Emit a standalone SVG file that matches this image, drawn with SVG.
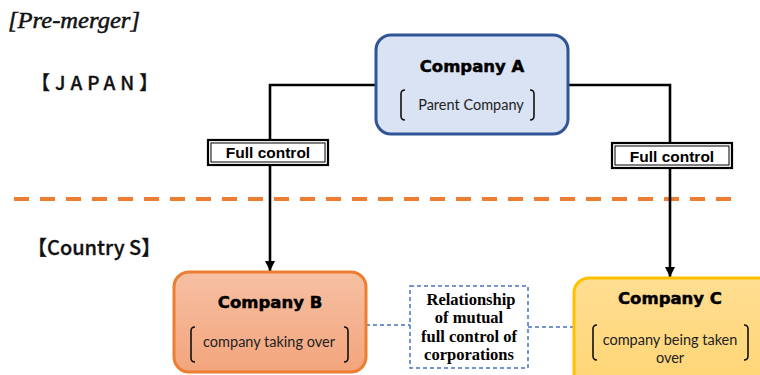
<svg xmlns="http://www.w3.org/2000/svg" width="760" height="375" viewBox="0 0 760 375">
  <style>
    .title { font-family: "DejaVu Sans", "Liberation Sans", sans-serif; font-weight: bold; font-size: 16.5px; fill: #000; stroke: #000; stroke-width: 0.5; text-anchor: middle; }
    .sub { font-family: Lato, "Open Sans", sans-serif; font-size: 14.5px; fill: #222; text-anchor: middle; }
    .bracket { fill: none; stroke: #111; stroke-width: 1.6; }
    .region { font-family: "Noto Sans CJK JP", "Noto Sans", sans-serif; font-weight: 500; fill: #111; }
    .wire { fill: none; stroke: #000; stroke-width: 2.6; }
    .link { fill: none; stroke: #4472C4; stroke-width: 1.5; stroke-dasharray: 4 3; }
    .tag-out { fill: #fff; stroke: #000; stroke-width: 2.2; }
    .tag-in { fill: none; stroke: #000; stroke-width: 1; }
    .tag-text { font-family: "Liberation Sans", Arial, sans-serif; font-weight: bold; font-size: 15.5px; fill: #000; text-anchor: middle; }
    .rel { font-family: "Liberation Serif", "Times New Roman", serif; font-weight: bold; font-size: 16.5px; fill: #000; text-anchor: middle; }
  </style>
  <defs>
    <marker id="arrow" viewBox="0 0 10 10" refX="10" refY="5" markerWidth="4" markerHeight="4" orient="auto" markerUnits="strokeWidth">
      <path d="M0,0 L10,5 L0,10 z" fill="#000"/>
    </marker>
    <linearGradient id="gradB" x1="0" y1="0" x2="0" y2="1">
      <stop offset="0" stop-color="#F6C0A3"/>
      <stop offset="1" stop-color="#F3A57C"/>
    </linearGradient>
    <linearGradient id="gradC" x1="0" y1="0" x2="0" y2="1">
      <stop offset="0" stop-color="#FFDE92"/>
      <stop offset="1" stop-color="#FFD574"/>
    </linearGradient>
  </defs>

  <!-- headings -->
  <text x="8" y="28" font-family="Liberation Serif, 'Times New Roman', serif" font-style="italic" font-size="24" fill="#111" stroke="#111" stroke-width="0.5" textLength="132" lengthAdjust="spacingAndGlyphs">[Pre-merger]</text>
  <text class="region" x="31" y="90" font-size="19" letter-spacing="5" stroke="#111" stroke-width="0.3">【JAPAN】</text>
  <text class="region" x="27" y="255" font-size="20" stroke="#111" stroke-width="0.3">【Country S】</text>

  <!-- border between the two countries -->
  <line x1="14" y1="199" x2="742" y2="199" stroke="#ED7D31" stroke-width="4" stroke-dasharray="15 11"/>

  <!-- connectors -->
  <g id="connectors">
    <path class="wire" d="M376,85 H270 V140"/>
    <path class="wire" d="M270,165 V271" marker-end="url(#arrow)"/>
    <path class="wire" d="M568,85 H670 V143"/>
    <path class="wire" d="M670,168 V277" marker-end="url(#arrow)"/>
    <line class="link" x1="366" y1="325" x2="410" y2="325"/>
    <line class="link" x1="528" y1="327" x2="573" y2="327"/>
  </g>

  <!-- control labels -->
  <g id="tag-left">
    <rect class="tag-out" x="208" y="140" width="120" height="25"/>
    <rect class="tag-in" x="211" y="143" width="114" height="19"/>
    <text class="tag-text" x="268" y="158">Full control</text>
  </g>
  <g id="tag-right">
    <rect class="tag-out" x="612" y="143" width="120" height="25"/>
    <rect class="tag-in" x="615" y="146" width="114" height="19"/>
    <text class="tag-text" x="672" y="161.5">Full control</text>
  </g>

  <!-- Company A -->
  <g id="company-a">
    <rect x="376" y="35" width="192" height="99" rx="15" fill="#DAE3F3" stroke="#2F5597" stroke-width="3"/>
    <text class="title" x="472" y="72">Company A</text>
    <path class="bracket" d="M405,90 Q401,90 401,94 V116 Q401,120 405,120"/>
    <path class="bracket" d="M530,90 Q534,90 534,94 V116 Q534,120 530,120"/>
    <text class="sub" x="471" y="110">Parent Company</text>
  </g>

  <!-- Company B -->
  <g id="company-b">
    <rect x="174" y="272" width="192" height="100" rx="15" fill="url(#gradB)" stroke="#ED7D31" stroke-width="3"/>
    <text class="title" x="270" y="308">Company B</text>
    <path class="bracket" d="M195,327 Q191,327 191,331 V358 Q191,362 195,362"/>
    <path class="bracket" d="M344,327 Q348,327 348,331 V358 Q348,362 344,362"/>
    <text class="sub" x="269" y="347">company taking over</text>
  </g>

  <!-- Company C -->
  <g id="company-c">
    <rect x="574" y="278" width="200" height="110" rx="15" fill="url(#gradC)" stroke="#FFC000" stroke-width="3"/>
    <text class="title" x="670" y="304">Company C</text>
    <path class="bracket" d="M597,325 Q593,325 593,329 V356 Q593,360 597,360"/>
    <path class="bracket" d="M744,325 Q748,325 748,329 V356 Q748,360 744,360"/>
    <text class="sub" x="670" y="345">company being taken</text>
    <text class="sub" x="670" y="363">over</text>
  </g>

  <!-- mutual control relationship -->
  <g id="relationship">
    <rect x="410" y="286" width="118" height="82" fill="#fff" stroke="#4472C4" stroke-width="1.5" stroke-dasharray="4 3"/>
    <text class="rel" x="471" y="305">Relationship</text>
    <text class="rel" x="469" y="323">of mutual</text>
    <text class="rel" x="469" y="342">full control of</text>
    <text class="rel" x="469" y="360">corporations</text>
  </g>
</svg>
